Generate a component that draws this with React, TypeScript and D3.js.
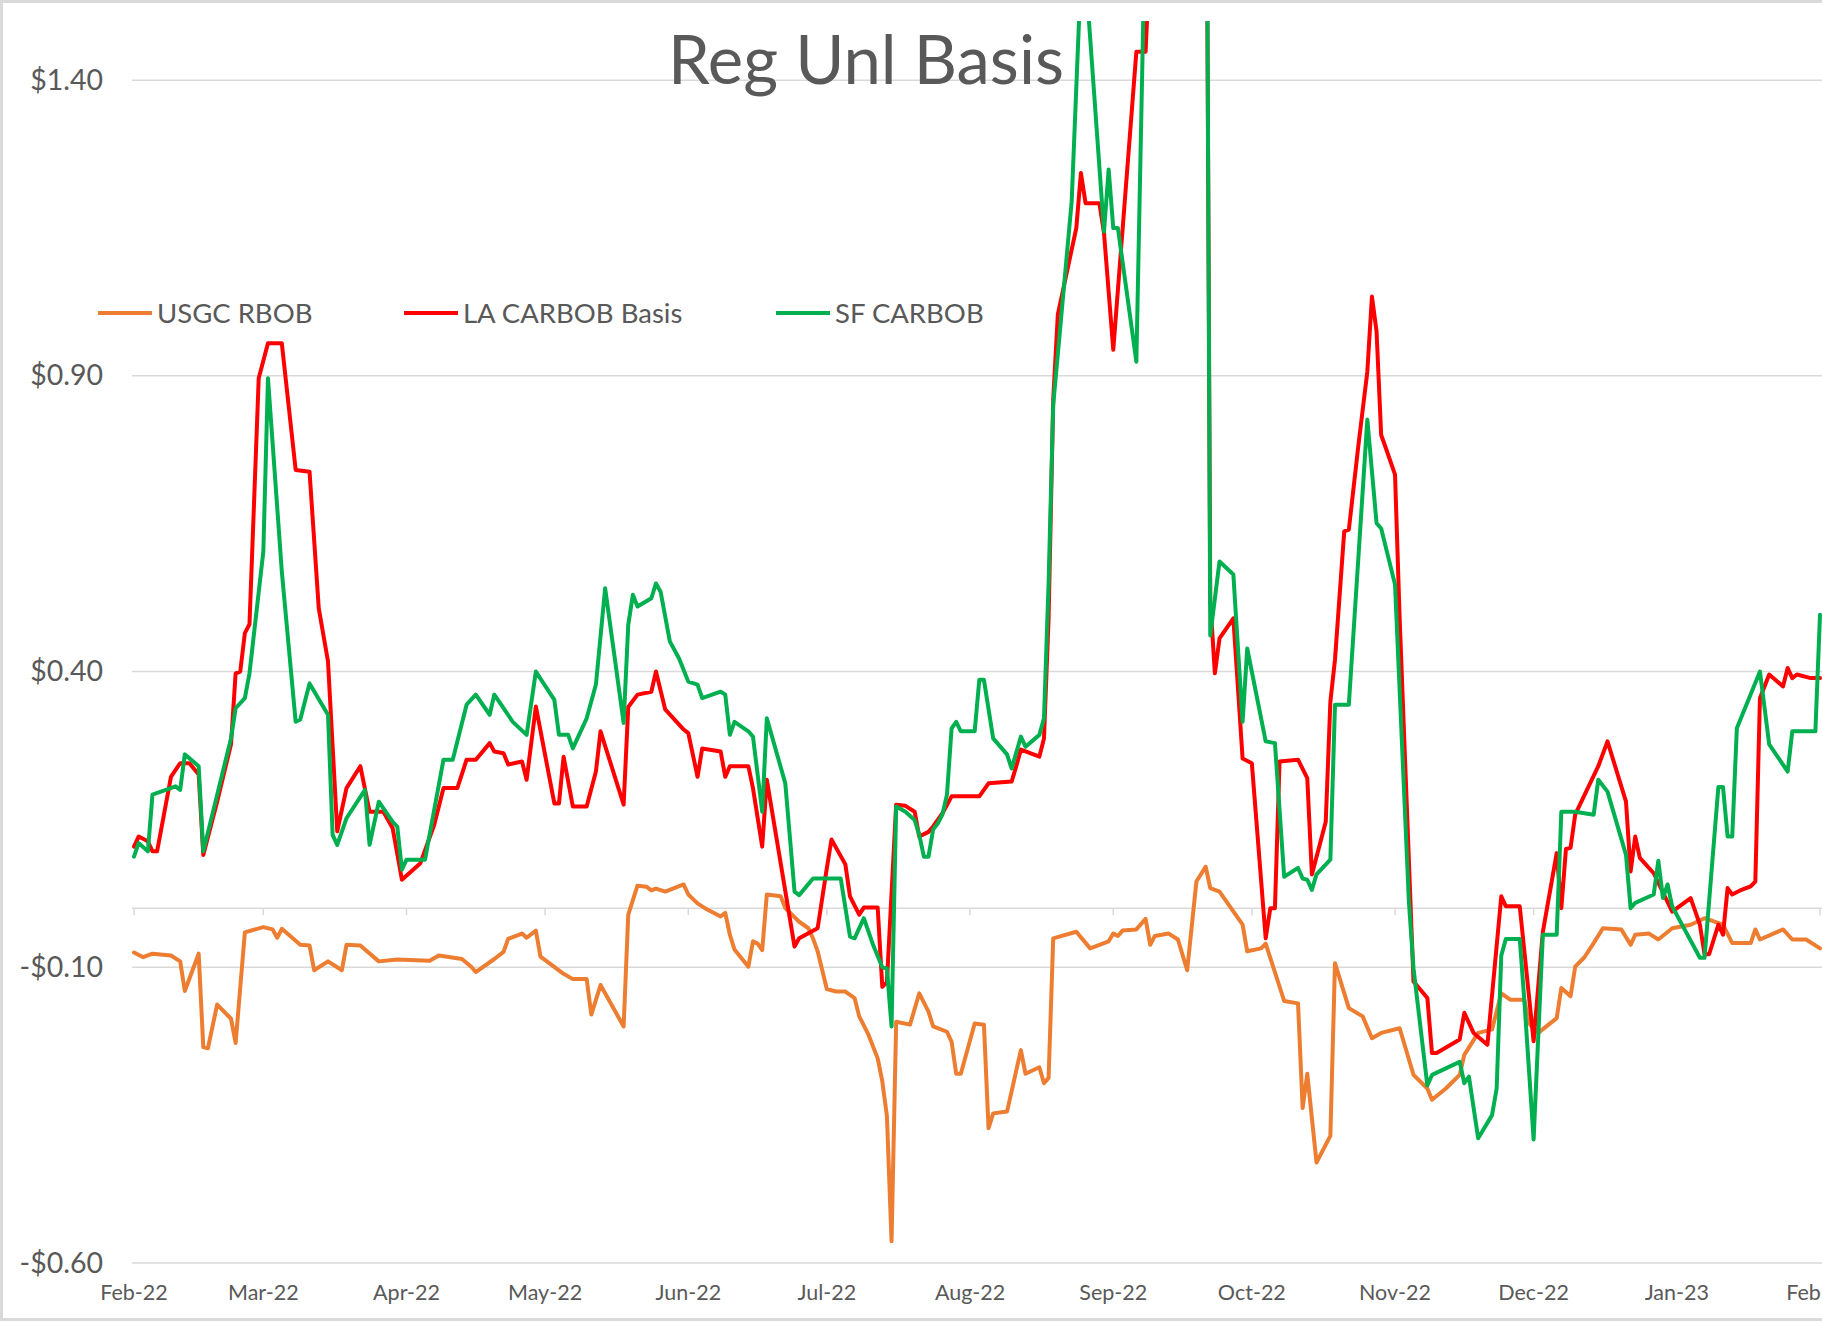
import React, { useEffect, useRef } from 'react'
import * as d3 from 'd3'

type TPoint = [number, number]

const seriesNames = ['USGC RBOB', 'LA CARBOB Basis', 'SF CARBOB']
const seriesColors = ['#ED7D31', '#FF0000', '#00B050']
const yTickValues = [-0.6, -0.1, 0.4, 0.9, 1.4]
const startDate = new Date(2022, 1, 1)
const endDate = new Date(2023, 1, 1)

// [days after 1-Feb-22, basis $/gal]
const usgcRbob: TPoint[] = [
  [0, -0.075], [2, -0.083], [4, -0.077], [8, -0.08], [10, -0.09], [11, -0.14], [14, -0.077], [15, -0.235],
  [16, -0.237], [18, -0.163], [21, -0.187], [22, -0.228], [24, -0.041], [28, -0.032], [30, -0.036], [31, -0.05],
  [32, -0.035], [36, -0.062], [38, -0.063], [39, -0.105], [42, -0.09], [45, -0.105], [46, -0.062], [49, -0.063],
  [53, -0.09], [57, -0.087], [64, -0.089], [66, -0.08], [71, -0.086], [73, -0.099], [74, -0.108], [78, -0.086],
  [80, -0.074], [81, -0.052], [84, -0.043], [85, -0.05], [87, -0.038], [88, -0.082], [93, -0.111], [95, -0.12],
  [98, -0.12], [99, -0.18], [101, -0.13], [106, -0.2], [107, -0.011], [109, 0.038], [111, 0.036], [112, 0.03],
  [113, 0.033], [115, 0.028], [119, 0.04], [120, 0.023], [122, 0.008], [124, -0.002], [127, -0.014], [128, -0.008],
  [129, -0.045], [130, -0.07], [133, -0.099], [134, -0.056], [135, -0.06], [136, -0.071], [137, 0.023], [140, 0.02],
  [141, 0.0], [144, -0.023], [146, -0.034], [147, -0.051], [148, -0.073], [150, -0.137], [152, -0.141], [154, -0.141],
  [156, -0.152], [157, -0.183], [159, -0.214], [161, -0.254], [162, -0.293], [163, -0.352], [164, -0.563], [165, -0.192],
  [168, -0.197], [170, -0.144], [172, -0.175], [173, -0.2], [176, -0.209], [177, -0.226], [178, -0.28], [179, -0.28],
  [182, -0.195], [184, -0.197], [185, -0.372], [186, -0.347], [189, -0.344], [192, -0.24], [193, -0.28], [196, -0.269],
  [197, -0.296], [198, -0.287], [199, -0.051], [204, -0.04], [207, -0.068], [211, -0.056], [212, -0.043], [213, -0.047],
  [214, -0.038], [217, -0.036], [219, -0.018], [220, -0.062], [221, -0.047], [224, -0.043], [226, -0.053], [228, -0.105],
  [230, 0.045], [232, 0.07], [233, 0.034], [235, 0.028], [240, -0.028], [241, -0.073], [244, -0.068], [245, -0.06],
  [249, -0.157], [252, -0.161], [253, -0.338], [254, -0.28], [256, -0.43], [259, -0.385], [260, -0.093], [263, -0.169],
  [266, -0.183], [268, -0.22], [270, -0.211], [274, -0.203], [277, -0.282], [280, -0.305], [281, -0.324], [284, -0.305],
  [287, -0.282], [288, -0.248], [291, -0.211], [294, -0.205], [296, -0.144], [298, -0.155], [301, -0.155], [302, -0.195],
  [304, -0.211], [308, -0.186], [309, -0.135], [311, -0.149], [312, -0.099], [314, -0.083], [316, -0.059], [318, -0.034],
  [322, -0.036], [324, -0.062], [325, -0.045], [328, -0.043], [330, -0.053], [333, -0.034], [337, -0.028], [340, -0.017],
  [344, -0.028], [346, -0.059], [350, -0.059], [351, -0.036], [352, -0.053], [357, -0.036], [359, -0.053], [362, -0.053],
  [365, -0.068]
]

const laCarbob: TPoint[] = [
  [0, 0.104], [1, 0.121], [3, 0.113], [4, 0.096], [5, 0.096], [8, 0.222], [10, 0.245], [12, 0.245], [14, 0.226],
  [15, 0.09], [18, 0.18], [21, 0.277], [22, 0.397], [23, 0.4], [24, 0.465], [25, 0.48], [27, 0.896], [29, 0.955],
  [32, 0.955], [35, 0.741], [38, 0.738], [40, 0.507], [42, 0.417], [44, 0.13], [46, 0.203], [49, 0.24], [51, 0.163],
  [54, 0.163], [56, 0.135], [58, 0.048], [62, 0.076], [65, 0.141], [67, 0.203], [70, 0.203], [72, 0.251], [74, 0.251],
  [77, 0.279], [78, 0.265], [80, 0.262], [81, 0.243], [84, 0.248], [85, 0.217], [87, 0.341], [91, 0.177], [92, 0.177],
  [93, 0.256], [95, 0.172], [98, 0.172], [100, 0.231], [101, 0.299], [106, 0.175], [107, 0.34], [109, 0.361], [112, 0.366],
  [113, 0.4], [115, 0.336], [119, 0.302], [120, 0.296], [122, 0.222], [123, 0.27], [127, 0.265], [128, 0.222], [129, 0.24],
  [133, 0.24], [134, 0.203], [136, 0.104], [137, 0.217], [143, -0.065], [144, -0.051], [148, -0.034], [150, 0.068],
  [151, 0.116], [154, 0.074], [155, 0.02], [157, -0.011], [158, 0.001], [161, 0.001], [162, -0.133], [163, -0.125],
  [165, 0.175], [167, 0.173], [169, 0.163], [170, 0.121], [172, 0.129], [173, 0.138], [175, 0.16], [177, 0.189],
  [183, 0.189], [185, 0.211], [190, 0.214], [191, 0.24], [192, 0.268], [196, 0.256], [197, 0.287], [198, 0.49],
  [199, 0.86], [200, 1.004], [204, 1.15], [205, 1.243], [206, 1.192], [209, 1.192], [210, 1.141], [212, 0.944],
  [217, 1.448], [219, 1.448], [220, 1.62], [223, 1.95], [227, 2.3], [231, 1.9], [232, 2.1], [233, 0.52], [234, 0.397],
  [235, 0.456], [238, 0.49], [240, 0.253], [242, 0.245], [245, -0.051], [246, 0.0], [247, 0.0], [248, 0.248],
  [252, 0.251], [254, 0.22], [255, 0.057], [258, 0.146], [259, 0.349], [260, 0.42], [262, 0.637], [263, 0.64],
  [265, 0.778], [267, 0.907], [268, 1.034], [269, 0.975], [270, 0.8], [271, 0.778], [273, 0.733], [274, 0.49],
  [277, -0.124], [280, -0.152], [281, -0.245], [282, -0.245], [287, -0.222], [288, -0.177], [290, -0.211], [293, -0.231],
  [296, 0.02], [297, 0.003], [300, 0.003], [303, -0.225], [305, -0.04], [308, 0.093], [309, 0.0], [310, 0.1],
  [311, 0.102], [312, 0.158], [317, 0.24], [319, 0.282], [323, 0.18], [324, 0.062], [325, 0.121], [326, 0.085],
  [329, 0.059], [333, -0.006], [337, 0.017], [339, -0.028], [340, -0.078], [341, -0.078], [343, -0.028], [344, -0.045],
  [345, 0.034], [346, 0.023], [348, 0.031], [350, 0.037], [351, 0.045], [352, 0.355], [354, 0.395], [357, 0.375],
  [358, 0.406], [359, 0.389], [360, 0.395], [363, 0.389], [365, 0.389]
]

const sfCarbob: TPoint[] = [
  [0, 0.087], [1, 0.11], [3, 0.096], [4, 0.192], [9, 0.206], [10, 0.2], [11, 0.26], [14, 0.24], [15, 0.096],
  [21, 0.287], [22, 0.338], [24, 0.355], [25, 0.397], [28, 0.603], [29, 0.896], [32, 0.569], [35, 0.315], [36, 0.319],
  [38, 0.38], [42, 0.327], [43, 0.124], [44, 0.107], [46, 0.152], [50, 0.2], [51, 0.107], [53, 0.18], [56, 0.146],
  [57, 0.138], [58, 0.065], [59, 0.082], [63, 0.082], [67, 0.251], [69, 0.251], [72, 0.344], [74, 0.361], [77, 0.327],
  [78, 0.361], [80, 0.338], [82, 0.315], [85, 0.293], [87, 0.4], [91, 0.352], [92, 0.293], [94, 0.293], [95, 0.27],
  [98, 0.321], [100, 0.378], [102, 0.541], [106, 0.313], [107, 0.479], [108, 0.53], [109, 0.51], [112, 0.524],
  [113, 0.549], [114, 0.535], [116, 0.451], [118, 0.422], [120, 0.383], [122, 0.378], [123, 0.355], [127, 0.366],
  [128, 0.361], [129, 0.293], [130, 0.315], [133, 0.299], [134, 0.29], [136, 0.163], [137, 0.321], [141, 0.211],
  [143, 0.028], [144, 0.022], [147, 0.05], [153, 0.05], [155, -0.048], [156, -0.051], [158, -0.017], [160, -0.062],
  [162, -0.1], [163, -0.102], [164, -0.2], [165, 0.172], [167, 0.163], [169, 0.149], [170, 0.124], [171, 0.087],
  [172, 0.087], [173, 0.133], [174, 0.143], [175, 0.158], [176, 0.192], [177, 0.304], [178, 0.315], [179, 0.299],
  [182, 0.299], [183, 0.386], [184, 0.386], [186, 0.287], [189, 0.26], [190, 0.236], [192, 0.29], [193, 0.273],
  [196, 0.293], [197, 0.321], [198, 0.55], [199, 0.851], [203, 1.195], [205, 1.58], [206, 1.58], [210, 1.144],
  [211, 1.249], [212, 1.15], [213, 1.15], [217, 0.924], [219, 1.7], [224, 2.4], [228, 2.8], [232, 2.2], [233, 0.461],
  [235, 0.586], [238, 0.564], [240, 0.315], [241, 0.439], [245, 0.282], [247, 0.279], [249, 0.053], [252, 0.068],
  [253, 0.05], [254, 0.048], [255, 0.031], [256, 0.057], [259, 0.082], [260, 0.344], [263, 0.344], [267, 0.826],
  [269, 0.651], [270, 0.642], [273, 0.547], [276, 0.011], [277, -0.102], [280, -0.3], [281, -0.282], [287, -0.26],
  [288, -0.296], [289, -0.285], [291, -0.389], [294, -0.35], [295, -0.305], [296, -0.08], [297, -0.052], [300, -0.052],
  [301, -0.157], [303, -0.391], [305, -0.045], [308, -0.045], [309, 0.163], [312, 0.163], [316, 0.158], [317, 0.217],
  [319, 0.197], [323, 0.09], [324, 0.0], [325, 0.009], [329, 0.023], [330, 0.08], [331, 0.017], [332, 0.04],
  [333, 0.003], [339, -0.084], [340, -0.084], [343, 0.205], [344, 0.205], [345, 0.121], [346, 0.121], [347, 0.304],
  [352, 0.4], [354, 0.277], [358, 0.231], [359, 0.299], [364, 0.299], [365, 0.496]
]

const allSeries = [usgcRbob, laCarbob, sfCarbob]

const useD3 = (renderChartFn: (svg: any) => void, dependencies: React.DependencyList) => {
  const ref = useRef(null)
  useEffect(() => {
    renderChartFn(d3.select(ref.current))
  }, dependencies)
  return ref
}

const FONT = "Lato, 'Open Sans', sans-serif"
const TEXT = '#595959'
const GRID = '#D9D9D9'

const DrawChart = () => {
  const width = 1822
  const height = 1322
  const plot = { left: 132, right: 1822, top: 21, bottom: 1263 }

  const ref = useD3((svg: d3.Selection<SVGSVGElement, unknown, HTMLElement, any>) => {
    document.body.style.margin = '0'
    svg.selectAll('*').remove()

    const xScale = d3.scaleTime().domain([startDate, endDate]).range([134, 1820])
    const yScale = d3.scaleLinear().domain([-0.6, 1.5]).range([plot.bottom, plot.top])
    const toDate = (d: number) => d3.timeDay.offset(startDate, d)

    svg.append('rect').attr('width', width).attr('height', height).attr('fill', '#fff')
    // chart border, cut off on the right like the screenshot
    svg
      .append('rect')
      .attr('x', 1.5)
      .attr('y', 1.5)
      .attr('width', width + 10)
      .attr('height', 1318)
      .attr('fill', 'none')
      .attr('stroke', GRID)
      .attr('stroke-width', 3)

    // gridlines
    svg
      .append('g')
      .selectAll('line')
      .data(yTickValues)
      .join('line')
      .attr('x1', plot.left)
      .attr('x2', plot.right)
      .attr('y1', d => yScale(d))
      .attr('y2', d => yScale(d))
      .attr('stroke', GRID)
      .attr('stroke-width', 1.5)

    svg
      .append('g')
      .selectAll('text')
      .data(yTickValues)
      .join('text')
      .attr('x', 103)
      .attr('y', d => yScale(d) + 9.5)
      .attr('text-anchor', 'end')
      .attr('font-family', FONT)
      .attr('font-size', 28.5)
      .attr('fill', TEXT)
      .text(d => (d < 0 ? '-$' : '$') + Math.abs(d).toFixed(2))

    // horizontal axis sits at zero, labels low
    const y0 = yScale(0)
    const months = d3.timeMonth.range(startDate, d3.timeDay.offset(endDate, 1))
    svg
      .append('line')
      .attr('x1', plot.left)
      .attr('x2', plot.right)
      .attr('y1', y0)
      .attr('y2', y0)
      .attr('stroke', GRID)
      .attr('stroke-width', 1.5)
    svg
      .append('g')
      .selectAll('line')
      .data(months)
      .join('line')
      .attr('x1', d => xScale(d))
      .attr('x2', d => xScale(d))
      .attr('y1', y0)
      .attr('y2', y0 + 7)
      .attr('stroke', GRID)
      .attr('stroke-width', 1.5)
    svg
      .append('g')
      .selectAll('text')
      .data(months)
      .join('text')
      .attr('x', d => xScale(d))
      .attr('y', 1300)
      .attr('text-anchor', 'middle')
      .attr('font-family', FONT)
      .attr('font-size', 21.5)
      .attr('fill', TEXT)
      .text(d => d3.timeFormat('%b-%y')(d))

    svg
      .append('clipPath')
      .attr('id', 'plot-clip')
      .append('rect')
      .attr('x', plot.left)
      .attr('y', plot.top)
      .attr('width', plot.right - plot.left)
      .attr('height', plot.bottom - plot.top + 20)

    const lineGenerator = d3
      .line<TPoint>()
      .x(d => xScale(toDate(d[0])))
      .y(d => yScale(d[1]))

    svg
      .append('g')
      .attr('clip-path', 'url(#plot-clip)')
      .selectAll('path')
      .data(allSeries)
      .join('path')
      .attr('d', d => lineGenerator(d))
      .attr('fill', 'none')
      .attr('stroke', (_, i) => seriesColors[i])
      .attr('stroke-width', 4)
      .attr('stroke-linejoin', 'round')
      .attr('stroke-linecap', 'round')

    // title
    svg
      .append('text')
      .attr('x', 866)
      .attr('y', 84)
      .attr('text-anchor', 'middle')
      .attr('font-family', FONT)
      .attr('font-size', 67)
      .attr('fill', TEXT)
      .text('Reg Unl Basis')

    // legend
    const legendX = [98, 404, 776]
    const legend = svg
      .append('g')
      .selectAll('g')
      .data(seriesNames)
      .join('g')
      .attr('transform', (_, i) => `translate(${legendX[i]}, 313)`)
    legend
      .append('line')
      .attr('x1', 0)
      .attr('x2', 54)
      .attr('stroke', (_, i) => seriesColors[i])
      .attr('stroke-width', 4)
    legend
      .append('text')
      .attr('x', 59)
      .attr('y', 10)
      .attr('font-family', FONT)
      .attr('font-size', 27.5)
      .attr('fill', TEXT)
      .text(d => d)
  }, [])

  return <svg ref={ref} width={width} height={height} style={{ display: 'block' }} />
}

const App = () => {
  return <DrawChart />
}

export default App
